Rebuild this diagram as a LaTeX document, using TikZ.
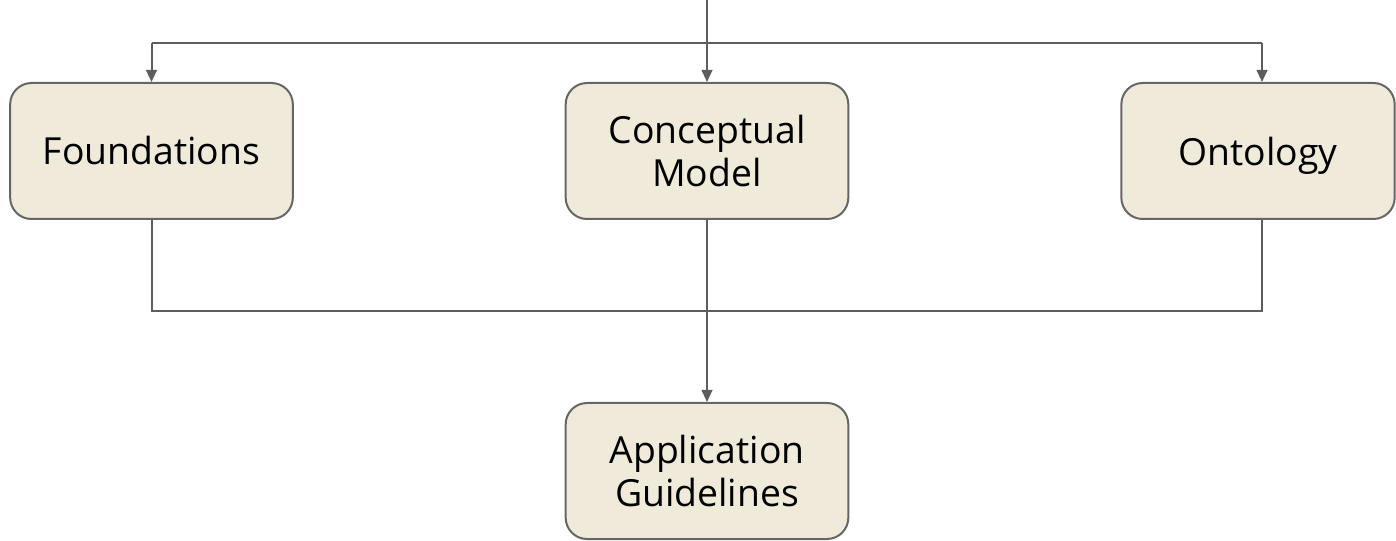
\documentclass[tikz,border=0pt]{standalone}
\usepackage{fontspec}
\setmainfont{Open Sans}
\usetikzlibrary{arrows.meta}
\definecolor{boxfill}{HTML}{EFEADA}
\definecolor{boxline}{HTML}{666666}
\definecolor{wire}{HTML}{5E5E5E}
\tikzset{
  stage/.style={draw=boxline, fill=boxfill, line width=1.5pt, rounded corners=16pt,
    minimum height=102pt, inner sep=0pt, align=center,
    font=\fontsize{28}{32.5}\selectfont},
  wireline/.style={draw=wire, line width=1.5pt},
  arr/.style={wireline, -{Triangle[width=8pt,length=9pt]}}
}
\begin{document}
\begin{tikzpicture}[x=0.75pt,y=-0.75pt]
  \useasboundingbox (0,0) rectangle (1396,541);
  % stages
  \node[stage, minimum width=212pt] (fnd) at (151.5,151) {Foundations};
  \node[stage, minimum width=212pt] (cm)  at (707,151)   {Conceptual\\Model};
  \node[stage, minimum width=205pt, text depth=0pt] (ont) at (1258,151) {Ontology};
  \node[stage, minimum width=212pt] (app) at (707,471)   {Application\\Guidelines};
  % distribution from the top
  \coordinate (src) at (707,0);
  \coordinate (tl)  at (151.5,43);
  \coordinate (tr)  at (1262,43);
  \draw[wireline] (tl) -- (tr);
  \draw[arr] (src) -- (cm.north);
  \draw[arr] (tl) -- (tl |- fnd.north);
  \draw[arr] (tr) -- (tr |- ont.north);
  % merge at the bottom
  \coordinate (bl) at (151.5,311);
  \coordinate (br) at (1262,311);
  \draw[wireline] (bl |- fnd.south) -- (bl) -- (br) -- (br |- ont.south);
  \draw[arr] (cm.south) -- (app.north);
\end{tikzpicture}
\end{document}
